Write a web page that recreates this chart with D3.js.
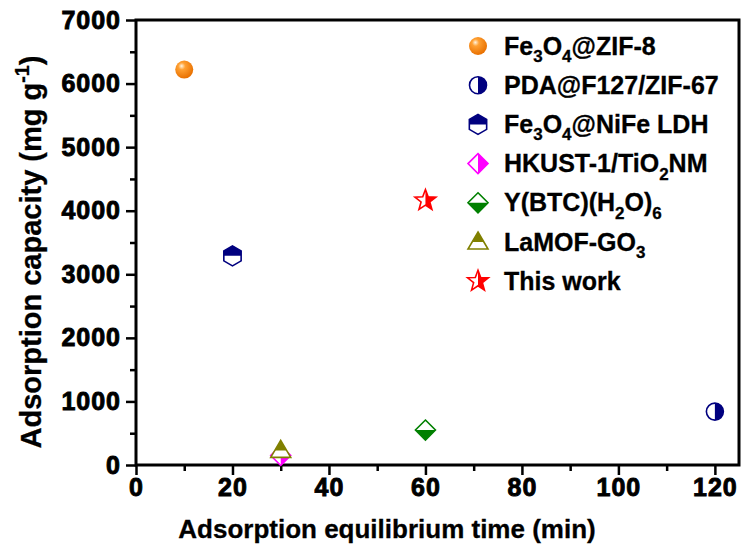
<!DOCTYPE html>
<html>
<head>
<meta charset="utf-8">
<script src="https://cdn.jsdelivr.net/npm/d3@7"></script>
<style>
  body { margin: 0; background: #fff; }
  svg text { font-family: "Liberation Sans", Arial, sans-serif; font-weight: bold; }
</style>
</head>
<body>
<div id="chart"></div>
<script>
// ===== Data =====
const labels = ['Fe_3O_4@ZIF-8', 'PDA@F127/ZIF-67', 'Fe_3O_4@NiFe LDH', 'HKUST-1/TiO_2NM', 'Y(BTC)(H_2O)_6', 'LaMOF-GO_3', 'This work'];
const times = [10, 120, 20, 30, 60, 30, 60];          // min
const capacities = [6220, 840, 3290, 150, 550, 230, 4160]; // mg g-1
const xTicks = [0, 20, 40, 60, 80, 100, 120];
const yTicks = [0, 1000, 2000, 3000, 4000, 5000, 6000, 7000];

// marker look per series
const shapes = ['sphere', 'circle', 'hexagon', 'diamond', 'diamond', 'triangle', 'star'];
const colors = ['#ff8a00', '#00007f', '#00007f', '#ff00ff', '#008000', '#808000', '#ff0000'];
const halves = [null, 'right', 'top', 'right', 'bottom', 'top', 'right'];

const width = 745, height = 552;
const margin = { top: 20, right: 6, bottom: 87, left: 136 };
const w = width - margin.left - margin.right;
const h = height - margin.top - margin.bottom;
const FONT = '"Liberation Sans", Arial, sans-serif';

const svg = d3.select('#chart').append('svg')
  .attr('width', width)
  .attr('height', height);

const defs = svg.append('defs');

// sphere gradient
const grad = defs.append('radialGradient')
  .attr('id', 'sphere')
  .attr('cx', '40%').attr('cy', '35%').attr('r', '65%')
  .attr('fx', '35%').attr('fy', '30%');
grad.append('stop').attr('offset', '0%').attr('stop-color', '#fff4e0');
grad.append('stop').attr('offset', '30%').attr('stop-color', '#ffa032');
grad.append('stop').attr('offset', '100%').attr('stop-color', '#e87000');

// half clip rects in marker-local coords
const clipRects = {
  left: [-20, -20, 20, 40],
  right: [0, -20, 20, 40],
  top: [-20, -20, 40, 20],
  bottom: [-20, 0, 40, 20]
};
Object.entries(clipRects).forEach(([k, r]) => {
  defs.append('clipPath').attr('id', 'half-' + k)
    .append('rect')
    .attr('x', r[0]).attr('y', r[1]).attr('width', r[2]).attr('height', r[3]);
});

function shapePath(shape) {
  if (shape === 'hexagon') {
    const r = 10;
    return d3.line()(d3.range(6).map(i => {
      const a = Math.PI / 3 * i - Math.PI / 2;
      return [r * Math.cos(a), r * Math.sin(a)];
    })) + 'Z';
  }
  if (shape === 'diamond') return 'M0,-10L10,0L0,10L-10,0Z';
  if (shape === 'triangle') return 'M0,-10L10,7L-10,7Z';
  if (shape === 'star') {
    return d3.line()(d3.range(10).map(i => {
      const r = i % 2 ? 4.6 : 11;
      const a = Math.PI / 5 * i - Math.PI / 2;
      return [r * Math.cos(a), r * Math.sin(a)];
    })) + 'Z';
  }
  return null;
}

function drawMarker(g, i) {
  const shape = shapes[i], col = colors[i];
  if (shape === 'sphere') {
    g.append('circle').attr('r', 9).attr('fill', 'url(#sphere)');
    return;
  }
  const mk = () => shape === 'circle'
    ? g.append('circle').attr('r', 8.5)
    : g.append('path').attr('d', shapePath(shape));
  mk().attr('fill', '#fff');
  mk().attr('fill', col).attr('clip-path', `url(#half-${halves[i]})`);
  mk().attr('fill', 'none').attr('stroke', col).attr('stroke-width', 1.6)
    .attr('stroke-linejoin', 'miter');
}

// write a label with _N subscripts / ^N superscripts into a text element
function richText(text, str, size) {
  const parts = str.split(/(_\d|\^-?\d)/).filter(s => s.length);
  let shift = 0; // pending baseline return
  parts.forEach(p => {
    if (p[0] === '_' || p[0] === '^') {
      const dy = p[0] === '_' ? size * 0.3 : -size * 0.42;
      text.append('tspan').attr('font-size', size * 0.68).attr('dy', dy - shift).text(p.slice(1));
      shift = dy;
    } else {
      text.append('tspan').attr('dy', -shift).text(p);
      shift = 0;
    }
  });
}

const g = svg.append('g').attr('transform', `translate(${margin.left},${margin.top})`);

const x = d3.scaleLinear().domain([0, 125]).range([0, w]);
const y = d3.scaleLinear().domain([0, 7000]).range([h, 0]);

// minor ticks
g.append('g')
  .attr('transform', `translate(0,${h})`)
  .call(d3.axisBottom(x).tickValues(d3.range(10, 125, 20)).tickSize(6).tickFormat(''))
  .call(a => a.select('.domain').remove())
  .call(a => a.selectAll('.tick line').attr('stroke-width', 2.5));
g.append('g')
  .call(d3.axisLeft(y).tickValues(d3.range(500, 7000, 1000)).tickSize(6).tickFormat(''))
  .call(a => a.select('.domain').remove())
  .call(a => a.selectAll('.tick line').attr('stroke-width', 2.5));

function styleAxis(a) {
  a.select('.domain').remove();
  a.attr('font-family', FONT).attr('font-size', 25).attr('font-weight', 'bold');
  a.selectAll('.tick line').attr('stroke-width', 2.5);
  a.selectAll('.tick text')
    .attr('fill', '#000')
    .style('font-weight', 'bold')
    .attr('letter-spacing', 1)
    .attr('stroke', '#000').attr('stroke-width', 0.9);
}

// major ticks + labels
g.append('g')
  .attr('transform', `translate(0,${h})`)
  .call(d3.axisBottom(x).tickValues(xTicks).tickSize(10).tickPadding(3).tickFormat(d3.format('d')))
  .call(styleAxis);

g.append('g')
  .call(d3.axisLeft(y).tickValues(yTicks).tickSize(10).tickPadding(5).tickFormat(d3.format('d')))
  .call(styleAxis);

// frame
g.append('rect')
  .attr('width', w).attr('height', h)
  .attr('fill', 'none').attr('stroke', '#000').attr('stroke-width', 3);

// points
labels.forEach((d, i) => {
  const m = g.append('g').attr('transform', `translate(${x(times[i])},${y(capacities[i])})`);
  drawMarker(m, i);
});

// legend
const legend = svg.append('g').attr('transform', 'translate(478,46)');
labels.forEach((d, i) => {
  const row = legend.append('g').attr('transform', `translate(0,${i * 39.2})`);
  drawMarker(row.append('g'), i);
  const t = row.append('text').attr('x', 26).attr('y', 8.5).attr('font-size', 25)
    .attr('stroke', '#000').attr('stroke-width', 0.3);
  richText(t, d, 25);
});

// axis titles
svg.append('text')
  .attr('x', 387)
  .attr('y', 538)
  .attr('text-anchor', 'middle')
  .attr('font-size', 26)
  .attr('stroke', '#000').attr('stroke-width', 0.3)
  .text('Adsorption equilibrium time (min)');

const yt = svg.append('text')
  .attr('transform', `translate(41,252) rotate(-90)`)
  .attr('text-anchor', 'middle')
  .attr('font-size', 29)
  .attr('stroke', '#000').attr('stroke-width', 0.3);
richText(yt, 'Adsorption capacity (mg g^-1)', 29);
</script>
</body>
</html>
